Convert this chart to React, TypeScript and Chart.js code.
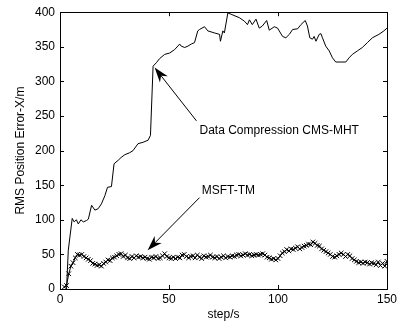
import React, { useEffect, useRef } from "react";
import { Chart, registerables } from "chart.js";

Chart.register(...registerables);

const xTicks = [0, 50, 100, 150];
const yTicks = [0, 50, 100, 150, 200, 250, 300, 350, 400];

const cmsSteps = [3, 3.8, 5.6, 6.5, 7.5, 8.4, 9.6, 10.7, 12.2, 13, 14.5, 16, 17.5, 19, 20.6, 21.8, 23.6, 24.8, 26.7, 28, 29.7, 32, 33.5, 35.8, 38.1, 40.4, 41.5, 42.7, 44.2, 45.7, 48, 50.3, 52.6, 54.9, 55.6, 57.2, 58.7, 60.2, 61.7, 63.2, 64, 66.3, 67.8, 70.9, 73.2, 73.6, 74.7, 75.4, 77, 78.5, 82.3, 84.6, 86, 86.9, 88.2, 89.9, 91.4, 92.8, 94.8, 96, 98.3, 99.8, 102.1, 103.6, 105.2, 106.7, 109, 110.5, 112.5, 113.5, 114.6, 115.8, 116.6, 117.4, 118.9, 119.7, 120.4, 121.9, 123.5, 125, 126.5, 128.8, 131.1, 132.6, 134.1, 136.4, 138.7, 141, 143.3, 146.3, 148.6, 150];
const cmsValues = [0, 56, 102, 97, 100, 94, 100, 97, 99, 101, 121, 114, 116, 123, 135, 147, 148, 181, 186, 190, 194, 197, 200, 210, 212, 215, 222, 322, 327, 333, 339, 341, 346, 354, 351, 349, 351, 354, 356, 373, 375, 379, 373, 370, 368, 358, 373, 370, 399, 397, 392, 387, 382, 389, 382, 390, 377, 380, 388, 374, 379, 377, 365, 363, 368, 375, 376, 382, 388, 380, 363, 361, 365, 358, 368, 369, 363, 351, 344, 334, 328, 328, 328, 334, 339, 344, 349, 356, 363, 368, 373, 377];

const msftStart = 2;
const msftValues = [3, 5, 22, 33, 38, 45, 50, 49, 50, 47, 45, 43, 41, 37, 36, 34, 35, 33, 37, 39, 42, 41, 45, 46, 48, 50, 51, 47, 49, 45, 44, 47, 45, 48, 46, 47, 45, 46, 44, 43, 46, 45, 47, 44, 45, 48, 51, 47, 45, 44, 46, 44, 46, 45, 49, 50, 47, 45, 47, 48, 45, 49, 46, 44, 48, 46, 47, 49, 46, 45, 47, 44, 46, 48, 45, 47, 46, 48, 47, 49, 50, 48, 49, 51, 49, 50, 48, 49, 50, 49, 50, 51, 49, 46, 45, 43, 44, 42, 44, 48, 52, 54, 57, 55, 58, 57, 59, 61, 58, 60, 62, 63, 65, 64, 68, 66, 63, 62, 58, 56, 54, 52, 50, 47, 46, 48, 50, 52, 50, 47, 50, 48, 44, 42, 40, 38, 39, 37, 39, 38, 36, 38, 37, 35, 39, 34, 37, 33, 40];

const cmsLabel = "Data Compression CMS-MHT";
const msftLabel = "MSFT-TM";
const xTitle = "step/s";
const yTitle = "RMS Position Error-X/m";

// annotations in data coordinates: [textStep, textValue, tailStep, tailValue, tipStep, tipValue]
const cmsNote = [64, 229, 62.6, 243, 43.4, 320];
const msftNote = [65, 142, 64, 132, 40.2, 56];

const FONT = "12px 'Liberation Sans', Arial, sans-serif";

function drawArrow(ctx: CanvasRenderingContext2D, x0: number, y0: number, x1: number, y1: number) {
  const ang = Math.atan2(y1 - y0, x1 - x0);
  const len = 15;
  const half = 5;
  ctx.beginPath();
  ctx.moveTo(x0, y0);
  ctx.lineTo(x1 - Math.cos(ang) * len * 0.7, y1 - Math.sin(ang) * len * 0.7);
  ctx.stroke();
  const bx = x1 - Math.cos(ang) * len;
  const by = y1 - Math.sin(ang) * len;
  const nx = -Math.sin(ang);
  const ny = Math.cos(ang);
  const mx = x1 - Math.cos(ang) * len * 0.7;
  const my = y1 - Math.sin(ang) * len * 0.7;
  ctx.beginPath();
  ctx.moveTo(x1, y1);
  ctx.lineTo(bx + nx * half, by + ny * half);
  ctx.lineTo(mx, my);
  ctx.lineTo(bx - nx * half, by - ny * half);
  ctx.closePath();
  ctx.fill();
}

const framePlugin = {
  id: "frame",
  afterDraw(chart: any) {
    const { ctx, chartArea: a, scales } = chart;
    const xs = scales.x;
    const ys = scales.y;
    ctx.save();
    ctx.strokeStyle = "#000";
    ctx.fillStyle = "#000";
    ctx.lineWidth = 1;
    ctx.strokeRect(Math.round(a.left) + 0.5, Math.round(a.top) + 0.5, Math.round(a.right - a.left), Math.round(a.bottom - a.top));
    const tl = 4;
    ctx.beginPath();
    xTicks.forEach((v) => {
      const px = Math.round(xs.getPixelForValue(v)) + 0.5;
      ctx.moveTo(px, a.bottom);
      ctx.lineTo(px, a.bottom - tl);
      ctx.moveTo(px, a.top);
      ctx.lineTo(px, a.top + tl);
    });
    yTicks.forEach((v) => {
      const py = Math.round(ys.getPixelForValue(v)) + 0.5;
      ctx.moveTo(a.left, py);
      ctx.lineTo(a.left + tl, py);
      ctx.moveTo(a.right, py);
      ctx.lineTo(a.right - tl, py);
    });
    ctx.stroke();

    ctx.font = FONT;
    ctx.textAlign = "center";
    ctx.textBaseline = "middle";
    ctx.fillText(xTitle, (a.left + a.right) / 2, 315);
    ctx.save();
    ctx.translate(21, (a.top + a.bottom) / 2);
    ctx.rotate(-Math.PI / 2);
    ctx.fillText(yTitle, 0, 0);
    ctx.restore();

    ctx.textAlign = "left";
    const notes: [number[], string][] = [[cmsNote, cmsLabel], [msftNote, msftLabel]];
    notes.forEach(([n, label]) => {
      ctx.fillText(label, xs.getPixelForValue(n[0]), ys.getPixelForValue(n[1]));
      drawArrow(ctx, xs.getPixelForValue(n[2]), ys.getPixelForValue(n[3]), xs.getPixelForValue(n[4]), ys.getPixelForValue(n[5]));
    });
    ctx.restore();
  },
};

export default function App() {
  const ref = useRef<HTMLCanvasElement>(null);
  useEffect(() => {
    if (!ref.current) return;
    const cmsData = cmsSteps.map((s, i) => ({ x: s, y: cmsValues[i] }));
    const msftData = msftValues.map((v, i) => ({ x: msftStart + i, y: v }));
    const chart = new Chart(ref.current, {
      type: "line",
      data: {
        datasets: [
          {
            label: cmsLabel,
            data: cmsData,
            borderColor: "#000",
            borderWidth: 1,
            pointRadius: 0,
            tension: 0,
          },
          {
            label: msftLabel,
            data: msftData,
            borderColor: "#000",
            borderWidth: 1,
            pointStyle: "crossRot",
            pointRadius: 3.2,
            pointBorderColor: "#000",
            pointBorderWidth: 1,
            tension: 0,
          },
        ],
      },
      options: {
        responsive: false,
        animation: false,
        events: [],
        layout: { padding: { left: 0, top: 10, right: 12, bottom: 0 } },
        plugins: { legend: { display: false }, tooltip: { enabled: false } },
        scales: {
          x: {
            type: "linear",
            min: 0,
            max: 150,
            afterBuildTicks: (s: any) => { s.ticks = xTicks.map((v) => ({ value: v })); },
            afterFit: (s: any) => { s.height = 37; },
            grid: { display: false, drawTicks: false },
            border: { display: false },
            ticks: { color: "#000", font: { family: "'Liberation Sans', Arial, sans-serif", size: 12 }, padding: 3, maxRotation: 0 },
          },
          y: {
            type: "linear",
            min: 0,
            max: 400,
            afterBuildTicks: (s: any) => { s.ticks = yTicks.map((v) => ({ value: v })); },
            afterFit: (s: any) => { s.width = 60; },
            grid: { display: false, drawTicks: false },
            border: { display: false },
            ticks: { color: "#000", font: { family: "'Liberation Sans', Arial, sans-serif", size: 12 }, padding: 5 },
          },
        },
      },
      plugins: [framePlugin],
    });
    return () => chart.destroy();
  }, []);
  return (
    <div style={{ position: "absolute", left: 0, top: 0, width: 400, height: 326, background: "#fff" }}>
      <canvas ref={ref} width={400} height={326} />
    </div>
  );
}
